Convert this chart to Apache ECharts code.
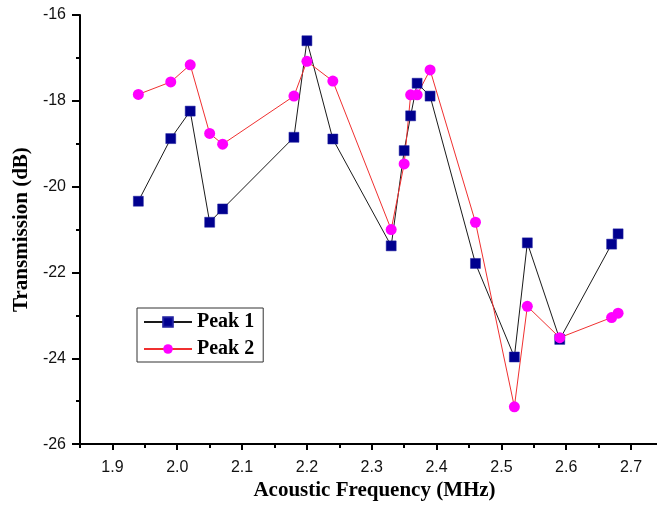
<!DOCTYPE html>
<html>
<head>
<meta charset="utf-8">
<script src="https://cdn.jsdelivr.net/npm/echarts@6/dist/echarts.min.js"></script>
<style>
  html, body { margin: 0; padding: 0; background: #fff; }
  #chart { width: 657px; height: 506px; }
</style>
</head>
<body>
<div id="chart"></div>
<script>
// Acoustic frequency (MHz) of each measurement
const frequency = [1.94, 1.99, 2.02, 2.05, 2.07, 2.18, 2.20, 2.24, 2.33, 2.35, 2.36, 2.37, 2.39, 2.46, 2.52, 2.54, 2.59, 2.67, 2.68];
// Transmission (dB) of the two peaks
const peak1 = [-20.34, -18.88, -18.24, -20.83, -20.52, -18.85, -16.60, -18.89, -21.38, -19.16, -18.35, -17.59, -17.89, -21.79, -23.97, -21.31, -23.56, -21.34, -21.10];
const peak2 = [-17.85, -17.56, -17.16, -18.76, -19.01, -17.89, -17.08, -17.54, -21.00, -19.47, -17.86, -17.86, -17.28, -20.83, -25.13, -22.79, -23.52, -23.05, -22.95];
// Tick positions
const xMajorTicks = [1.9, 2.0, 2.1, 2.2, 2.3, 2.4, 2.5, 2.6, 2.7];
const xMinorTicks = [1.85, 1.95, 2.05, 2.15, 2.25, 2.35, 2.45, 2.55, 2.65];
const yMajorTicks = [-26, -24, -22, -20, -18, -16];
const yMinorTicks = [-25, -23, -21, -19, -17];

const pairs = (xs, ys) => xs.map((x, i) => [x, ys[i]]);

const serifBold = { fontFamily: 'Liberation Serif', fontWeight: 'bold', color: '#000' };

const chart = echarts.init(document.getElementById('chart'), null, { renderer: 'canvas' });
chart.setOption({
  animation: false,
  backgroundColor: '#fff',
  grid: { left: 80, right: 0, top: 15, bottom: 61 },
  legend: {
    orient: 'vertical',
    left: 137,
    top: 308,
    padding: [4, 9, 3, 6],
    itemGap: 7,
    itemWidth: 48,
    itemHeight: 12,
    borderColor: '#333',
    borderWidth: 1,
    textStyle: Object.assign({ fontSize: 20 }, serifBold),
    data: ['Peak 1', 'Peak 2']
  },
  xAxis: [
    {
      type: 'value',
      min: 1.85,
      max: 2.74,
      name: 'Acoustic Frequency (MHz)',
      nameLocation: 'middle',
      nameGap: 35,
      nameTextStyle: Object.assign({ fontSize: 21, padding: [0, 0, 0, 12] }, serifBold),
      axisLine: { show: true, onZero: false, lineStyle: { color: '#000', width: 2 } },
      axisTick: { show: true, customValues: xMajorTicks, length: 6, lineStyle: { color: '#000', width: 2 } },
      axisLabel: { customValues: xMajorTicks, margin: 15, fontSize: 16, fontFamily: 'Liberation Sans', color: '#111',
        formatter: v => v.toFixed(1) },
      splitLine: { show: false }
    },
    {
      type: 'value',
      min: 1.85,
      max: 2.74,
      position: 'bottom',
      axisLine: { show: false, onZero: false },
      axisTick: { show: true, customValues: xMinorTicks, length: 4, lineStyle: { color: '#000', width: 2 } },
      axisLabel: { show: false },
      splitLine: { show: false }
    }
  ],
  yAxis: [
    {
      type: 'value',
      min: -26,
      max: -16,
      name: 'Transmission (dB)',
      nameLocation: 'middle',
      nameGap: 47,
      nameTextStyle: Object.assign({ fontSize: 21 }, serifBold),
      axisLine: { show: true, onZero: false, lineStyle: { color: '#000', width: 2 } },
      axisTick: { show: true, customValues: yMajorTicks, length: 8, lineStyle: { color: '#000', width: 2 } },
      axisLabel: { customValues: yMajorTicks, margin: 14, fontSize: 16, fontFamily: 'Liberation Sans', color: '#111' },
      splitLine: { show: false }
    },
    {
      type: 'value',
      min: -26,
      max: -16,
      position: 'left',
      axisLine: { show: false, onZero: false },
      axisTick: { show: true, customValues: yMinorTicks, length: 4, lineStyle: { color: '#000', width: 2 } },
      axisLabel: { show: false },
      splitLine: { show: false }
    }
  ],
  series: [
    {
      name: 'Peak 1',
      type: 'line',
      data: pairs(frequency, peak1),
      symbol: 'rect',
      symbolSize: 10,
      itemStyle: { color: '#00008F', borderColor: '#2020A0', borderWidth: 0.5 },
      lineStyle: { color: '#1a1a1a', width: 1 }
    },
    {
      name: 'Peak 2',
      type: 'line',
      data: pairs(frequency, peak2),
      symbol: 'circle',
      symbolSize: 11,
      itemStyle: { color: '#FF00FF' },
      lineStyle: { color: '#F03030', width: 1 }
    }
  ]
});
</script>
</body>
</html>
